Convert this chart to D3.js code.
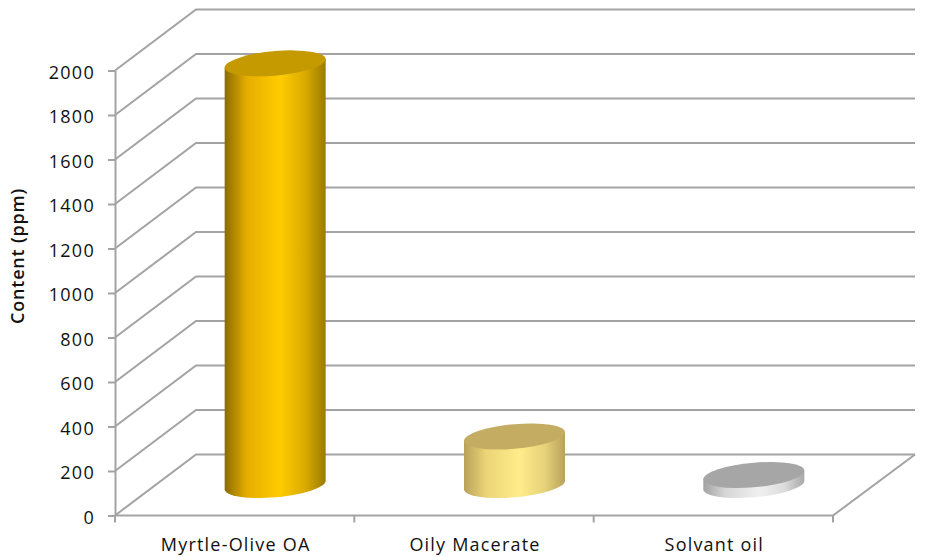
<!DOCTYPE html>
<html><head><meta charset="utf-8">
<script src="https://cdn.jsdelivr.net/npm/d3@7"></script>
<style>html,body{margin:0;background:#fff}svg{display:block}text{font-family:"Open Sans",sans-serif;fill:#111}</style>
</head><body><svg id="c" width="928" height="557"></svg>
<script>
const categories = ["Myrtle-Olive OA", "Oily Macerate", "Solvant oil"];
const values = [1895, 218, 45];
const yTicks = [0,200,400,600,800,1000,1200,1400,1600,1800,2000];
const yTitle = "Content (ppm)";
const sideColors = [["#8a6c00","#e6ad00","#ffcc00","#d9aa00","#9a7a00"],["#b8a25a","#ecd477","#ffec8a","#e6d27a","#b8a25a"],["#a2a2a2","#d6d6d6","#f0f0f0","#dcdcdc","#a8a8a8"]];
const topColors = ["#c49a00","#c4ad62","#a6a6a6"];
const gradStops = [0,0.22,0.55,0.8,1];

const W=928,H=557, dx=81, dy=-61, gridCol="#a3a3a3";
const svg=d3.select("#c");
const x=d3.scaleBand().domain(categories).range([115,833]);
const y=d3.scaleLinear().domain([0,2000]).range([515.5,70.5]);

const wall=svg.append("g").attr("fill","none").attr("stroke",gridCol).attr("stroke-width",2);
const line=d3.line();
yTicks.forEach(t=>{
  wall.append("path").attr("d",line([[115,y(t)],[115+dx,y(t)+dy],[915,y(t)+dy]]));
});
wall.append("path").attr("d",line([[115,y(0)],[833,y(0)],[915,y(0)+dy]]));

const axL=svg.append("g").attr("transform","translate(115,0)").call(d3.axisLeft(y).tickValues(yTicks).tickSize(7).tickSizeOuter(0).tickPadding(13).tickFormat(d3.format("d")));
axL.select(".domain").attr("stroke",gridCol).attr("stroke-width",2);
axL.selectAll(".tick line").attr("stroke",gridCol).attr("stroke-width",2);
axL.selectAll("text").style("font-size","18px").style("letter-spacing","1.3px").attr("dy","0.42em").attr("fill","#111");

const edges=[115].concat(categories.map(c=>x(c)+x.bandwidth()));
svg.append("g").selectAll("line").data(edges).join("line")
  .attr("x1",d=>d).attr("x2",d=>d).attr("y1",y(0)).attr("y2",y(0)+7)
  .attr("stroke",gridCol).attr("stroke-width",2);

svg.append("g").selectAll("text").data(categories).join("text")
  .attr("x",d=>x(d)+x.bandwidth()/2+1).attr("y",551).attr("text-anchor","middle")
  .style("font-size","18px").style("letter-spacing","1.2px").text(d=>d);

svg.append("text").attr("transform","translate(24,256) rotate(-90)").attr("text-anchor","middle")
  .style("font-size","18px").style("font-weight","600").style("letter-spacing","0.8px").text(yTitle);

const defs=svg.append("defs");
sideColors.forEach((c,i)=>{
  const g=defs.append("linearGradient").attr("id","g"+i).attr("x1",0).attr("x2",1).attr("y1",0).attr("y2",0);
  gradStops.forEach((o,j)=>g.append("stop").attr("offset",o).attr("stop-color",c[j]));
});
const rx=50.5, ry=12.3, skew=Math.atan(-0.084)*180/Math.PI;
const bars=svg.append("g").selectAll("g").data(values).join("g")
  .attr("transform",(d,i)=>`translate(${x(categories[i])+x.bandwidth()/2+dx/2},${y(0)+dy/2}) skewY(${skew})`);
bars.append("path").attr("fill",(d,i)=>`url(#g${i})`)
  .attr("d",d=>{const h=y(0)-y(d);return `M${-rx},${-h}L${-rx},0A${rx},${ry} 0 0 0 ${rx},0L${rx},${-h}Z`;});
bars.append("ellipse").attr("rx",rx).attr("ry",ry).attr("cy",d=>-(y(0)-y(d))).attr("fill",(d,i)=>topColors[i]);
</script></body></html>
